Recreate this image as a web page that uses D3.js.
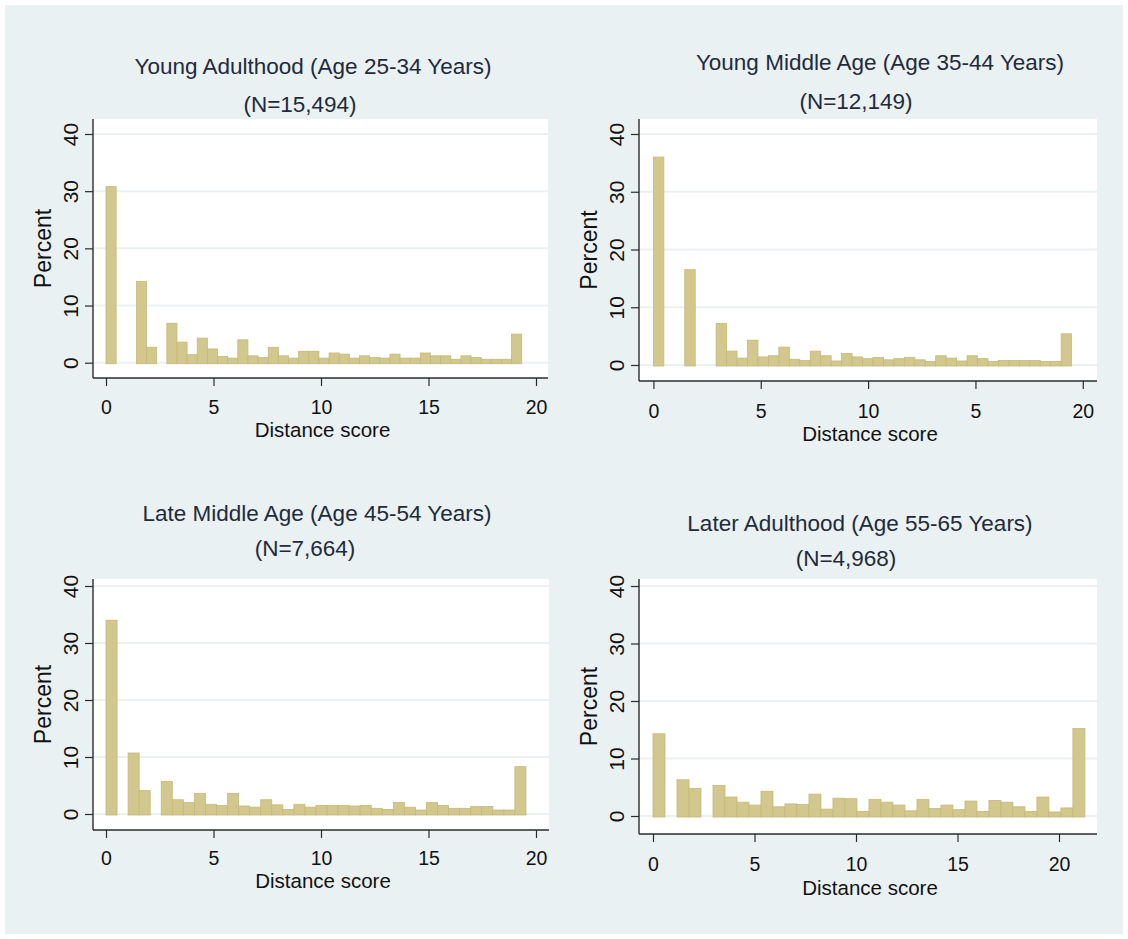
<!DOCTYPE html>
<html><head><meta charset="utf-8">
<script src="https://cdn.jsdelivr.net/npm/d3@7"></script>
<style>
body{margin:0;background:#fff}
svg{display:block}
text{font-family:"Liberation Sans",Arial,sans-serif}
</style>
</head><body>
<svg id="c" width="1128" height="939"></svg>
<script>
// ---------------- DATA ----------------
const panelTitles = [
  "Young Adulthood (Age 25-34 Years)",
  "Young Middle Age (Age 35-44 Years)",
  "Late Middle Age (Age 45-54 Years)",
  "Later Adulthood (Age 55-65 Years)"
];
const panelN = ["(N=15,494)", "(N=12,149)", "(N=7,664)", "(N=4,968)"];
// histogram bin widths (distance-score units), bins start at 0
const binWidths = [0.4716, 0.487, 0.514, 0.591];
// percent per bin
const pctYoungAdult = [30.8, 0, 0, 14.2, 2.7, 0, 6.9, 3.6, 1.4, 4.3, 2.4, 1.1, 0.8, 4.0, 1.2, 0.9, 2.7, 1.2, 0.8, 2.0, 2.0, 0.8, 1.7, 1.5, 0.8, 1.2, 0.9, 0.8, 1.5, 0.8, 0.8, 1.7, 1.2, 1.2, 0.6, 1.2, 0.9, 0.6, 0.6, 0.6, 5.0];
const pctYoungMiddle = [36.0, 0, 0, 16.5, 0, 0, 7.2, 2.4, 1.2, 4.3, 1.4, 1.6, 3.1, 1.0, 0.8, 2.4, 1.6, 0.7, 2.0, 1.4, 1.1, 1.3, 0.9, 1.1, 1.3, 0.9, 0.6, 1.6, 1.2, 0.7, 1.6, 1.1, 0.6, 0.8, 0.8, 0.8, 0.8, 0.6, 0.6, 5.4];
const pctLateMiddle = [34.0, 0, 10.7, 4.1, 0, 5.7, 2.5, 2.0, 3.6, 1.7, 1.5, 3.6, 1.4, 1.2, 2.5, 1.6, 0.8, 1.7, 1.2, 1.5, 1.5, 1.5, 1.4, 1.5, 1.0, 0.8, 2.0, 1.2, 0.7, 2.0, 1.5, 1.0, 1.0, 1.3, 1.3, 0.7, 0.7, 8.3];
const pctLaterAdult = [14.3, 0, 6.3, 4.8, 0, 5.3, 3.3, 2.4, 1.9, 4.3, 1.6, 2.1, 2.0, 3.8, 1.2, 3.1, 3.0, 0.8, 2.9, 2.4, 1.9, 0.9, 2.9, 1.3, 1.9, 1.1, 2.6, 0.8, 2.7, 2.4, 1.6, 0.8, 3.3, 0.7, 1.4, 15.2];
const xTickValues = [0, 5, 10, 15, 20];
const xTickLabelsP1 = ["0", "5", "10", "15", "20"];
const xTickLabelsP2 = ["0", "5", "10", "5", "20"];
const xTickLabelsP3 = ["0", "5", "10", "15", "20"];
const xTickLabelsP4 = ["0", "5", "10", "15", "20"];
const yTickValues = [0, 10, 20, 30, 40];
const xTitle = "Distance score";
const yTitle = "Percent";

// ---------------- LAYOUT ----------------
const series = [pctYoungAdult, pctYoungMiddle, pctLateMiddle, pctLaterAdult];
const xLabels = [xTickLabelsP1, xTickLabelsP2, xTickLabelsP3, xTickLabelsP4];
const layout = [
  {left:93, right:548, top:119, axisY:378, x0:106, x20:536, y0:362.7, y40:134, tX:313, tY:74, nX:300, nY:112, xtY:414, xlY:437},
  {left:639, right:1097, top:119, axisY:381, x0:653.4, x20:1082.8, y0:365, y40:134, tX:880, tY:70, nX:856, nY:109, xtY:418, xlY:441},
  {left:93, right:549, top:579, axisY:830, x0:106, x20:536, y0:814, y40:586, tX:317, tY:521, nX:305, nY:556, xtY:865, xlY:888},
  {left:639, right:1097, top:579, axisY:834, x0:653, x20:1059, y0:816, y40:586, tX:860, tY:531, nX:846, nY:566, xtY:871, xlY:895}
];

const svg = d3.select("#c");
svg.append("rect").attr("x",5).attr("y",5).attr("width",1118).attr("height",929).attr("fill","#eaf1f3");

const barFill = "#d2c78d", barStroke = "#c4b97b", gridCol = "#eaf1f3", axisCol = "#2b2b2b", titleCol = "#1f2a3c";

layout.forEach((L, p) => {
  const g = svg.append("g");
  const x = d3.scaleLinear().domain([0, 20]).range([L.x0, L.x20]);
  const y = d3.scaleLinear().domain([0, 40]).range([L.y0, L.y40]);

  // plot region
  g.append("rect").attr("x", L.left).attr("y", L.top)
    .attr("width", L.right - L.left).attr("height", L.axisY - L.top).attr("fill", "#fff");

  // gridlines
  g.selectAll(".grid").data(yTickValues).join("line")
    .attr("x1", L.left).attr("x2", L.right)
    .attr("y1", d => y(d)).attr("y2", d => y(d))
    .attr("stroke", gridCol).attr("stroke-width", 2);

  // bars
  const bw = binWidths[p];
  const bins = series[p].map((v, i) => ({x0: i * bw, x1: (i + 1) * bw, v}));
  g.selectAll(".bar").data(bins.filter(b => b.v > 0)).join("rect")
    .attr("x", d => x(d.x0))
    .attr("width", d => x(d.x1) - x(d.x0))
    .attr("y", d => y(d.v))
    .attr("height", d => y(0) - y(d.v) + 1)
    .attr("fill", barFill).attr("stroke", barStroke).attr("stroke-width", 0.8);

  // y axis
  const ya = g.append("g").attr("transform", `translate(${L.left},0)`)
    .call(d3.axisLeft(y).tickValues(yTickValues).tickSize(8).tickFormat(d3.format("d")));
  ya.select(".domain").remove();
  ya.selectAll(".tick line").attr("stroke", axisCol).attr("stroke-width", 1.2);
  ya.selectAll(".tick text")
    .attr("x", null).attr("dy", null)
    .attr("transform", "translate(-15,0) rotate(-90)")
    .attr("text-anchor", "middle")
    .attr("fill", "#111").style("font-size", "21px")
    .style("font-family", '"Liberation Sans",Arial,sans-serif');
  g.append("line").attr("x1", L.left).attr("x2", L.left).attr("y1", L.top).attr("y2", L.axisY)
    .attr("stroke", axisCol).attr("stroke-width", 1.4);

  // x axis
  const xa = g.append("g").attr("transform", `translate(0,${L.axisY})`)
    .call(d3.axisBottom(x).tickValues(xTickValues).tickSize(8).tickFormat((d, i) => xLabels[p][i]));
  xa.select(".domain").remove();
  xa.selectAll(".tick line").attr("stroke", axisCol).attr("stroke-width", 1.2);
  xa.selectAll(".tick text")
    .attr("y", L.xtY - L.axisY).attr("dy", null)
    .attr("fill", "#111").style("font-size", "19.5px")
    .style("font-family", '"Liberation Sans",Arial,sans-serif');
  g.append("line").attr("x1", L.left).attr("x2", L.right).attr("y1", L.axisY).attr("y2", L.axisY)
    .attr("stroke", axisCol).attr("stroke-width", 1.4);

  // axis titles
  g.append("text").attr("x", (L.left + L.right) / 2 + 2).attr("y", L.xlY)
    .attr("text-anchor", "middle").attr("fill", "#111").style("font-size", "20.5px").text(xTitle);
  g.append("text").attr("transform", `translate(${L.left - 42},${(L.top + L.axisY) / 2}) rotate(-90)`)
    .attr("text-anchor", "middle").attr("fill", "#111").style("font-size", "23px").text(yTitle);

  // titles
  g.append("text").attr("x", L.tX).attr("y", L.tY).attr("text-anchor", "middle")
    .attr("fill", titleCol).style("font-size", "22.5px").text(panelTitles[p]);
  g.append("text").attr("x", L.nX).attr("y", L.nY).attr("text-anchor", "middle")
    .attr("fill", titleCol).style("font-size", "22.5px").text(panelN[p]);
});
</script>
</body></html>
